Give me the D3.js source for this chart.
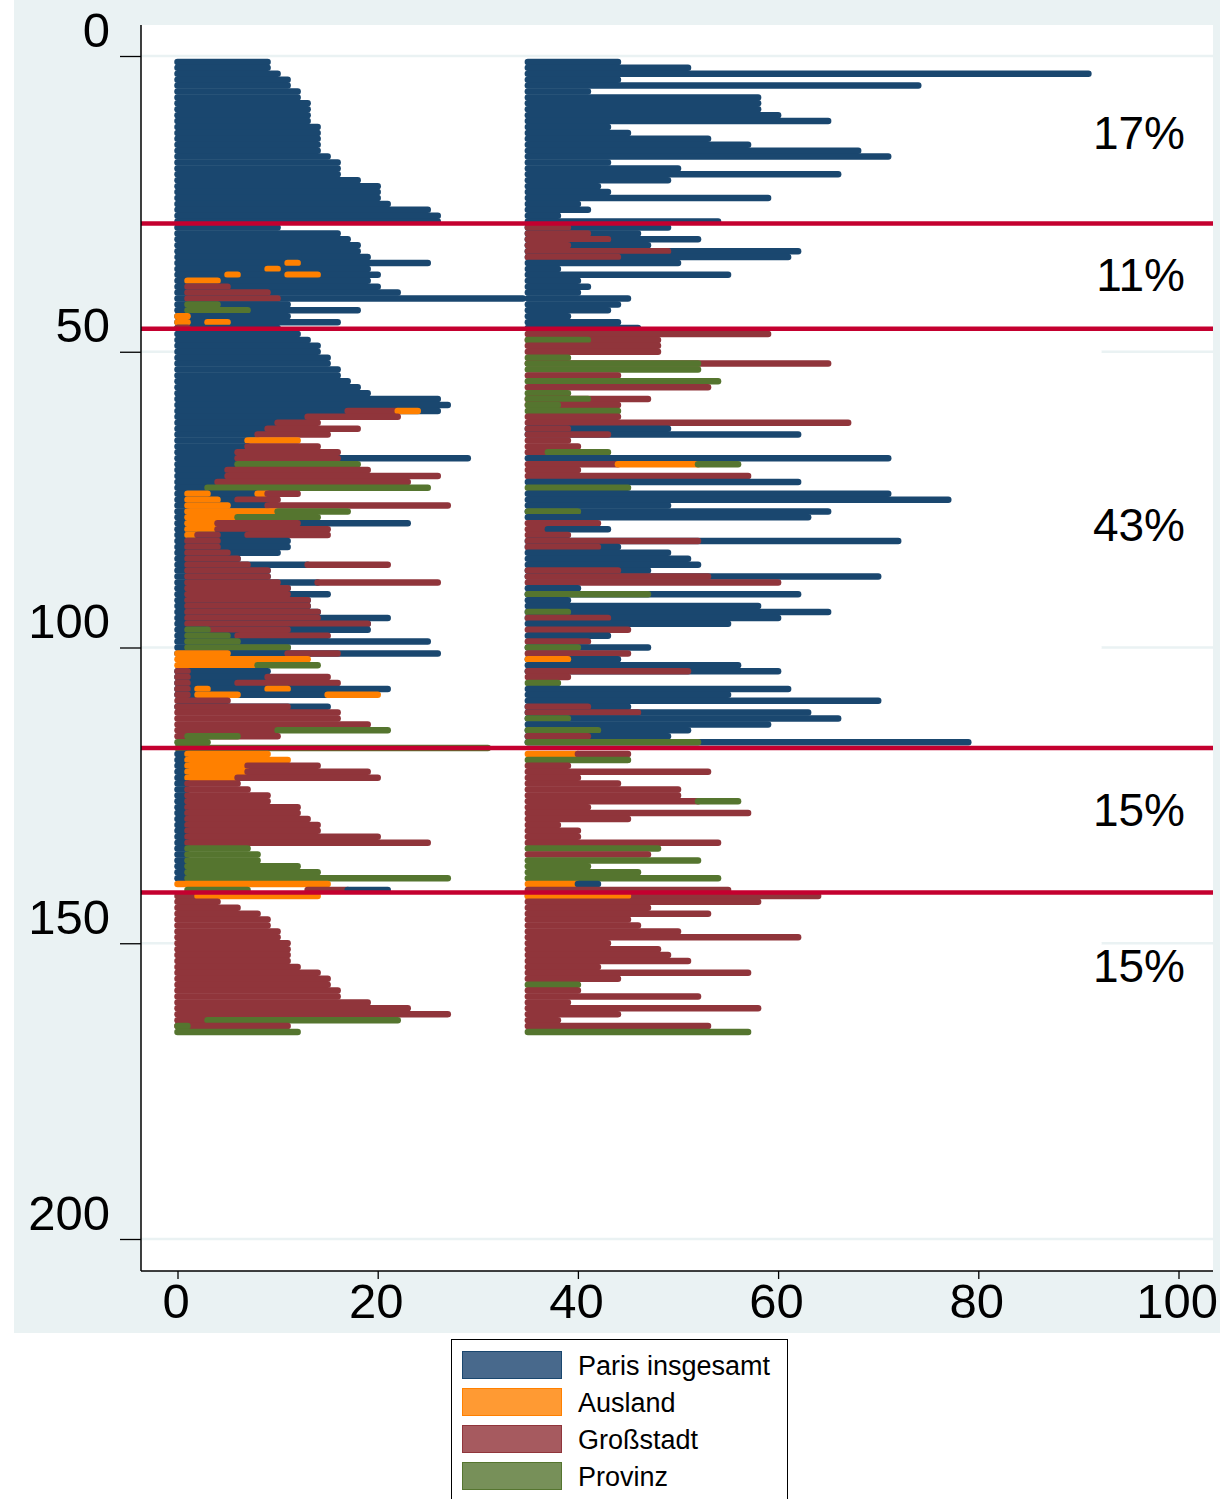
<!DOCTYPE html>
<html><head><meta charset="utf-8">
<script src="https://cdn.jsdelivr.net/npm/d3@7"></script>
<style>body{margin:0;background:#fff}svg{display:block}text{font-family:"Liberation Sans",Arial,sans-serif}</style>
</head><body><svg id="c" width="1232" height="1499"></svg>
<script>
// ---------- data ----------
const categories = ["B", "O", "R", "G"];
const categoryNames = ["Paris insgesamt", "Ausland", "Großstadt", "Provinz"];
const categoryColors = ["#1a476f", "#ff8000", "#90353b", "#55752f"];
const legendFills = ["#48698c", "#ff9a33", "#a65a5f", "#779059"];
const xTicks = [0, 20, 40, 60, 80, 100];
const yTicks = [0, 50, 100, 150, 200];
const groupBreaks = [28.3, 46.1, 117, 141.4];
const groupLabels = ["17%", "11%", "43%", "15%", "15%"];
const groupLabelY = [13, 37, 79.3, 127.5, 153.8];
const coverSpan = [0, 92];

// one string per person (row 1..165): spells "Cstart-end", drawn in order
const leftSpells = [
"B0-9","B0-9","B0-10","B0-11","B0-11","B0-12","B0-12","B0-13","B0-13","B0-13",
"B0-13","B0-14","B0-14","B0-14","B0-14","B0-14","B0-15","B0-16","B0-16","B0-16",
"B0-18","B0-20","B0-20","B0-20","B0-21","B0-25","B0-26","B0-26","B0-10","B0-16",
"B0-17","B0-18","B0-18","B0-19","B0-25 O11-12","B0-19 O9-10","B0-20 O5-6 O11-14","B0-19 O1-4","B0-20 R1-5","B0-22 R1-9",
"B0-34.5 R1-10","B0-11 G1-4","B0-18 G1-7","B0-11 O0-1","B0-16 O0-1 O3-5","B0-10 R0-1","B0-12","B0-13","B0-14","B0-14",
"B0-15","B0-15","B0-16","B0-16","B0-17","B0-18","B0-19","B0-26","B0-27","B0-26 R17-22 O22-24",
"B0-13 R13-22","B0-10 R10-14","B0-9 R9-18","B0-8 R8-15","B0-7 O7-12","B0-7 R7-14","B0-6 R6-16","B0-29 R6-16","B0-6 G6-18","B0-5 R5-19",
"B0-5 R5-26","B0-4 R4-23","B0-3 G3-25","B0-9 O1-3 O8-9 R9-12","B0-6 O1-4 R6-10","B0-9 O1-5 R9-27","B0-1 O1-10 G10-17","B0-6 O1-6 G6-14","B0-23 O1-4 R4-12","B0-4 O1-4 R4-15",
"B0-7 O1-2 R2-4 R7-15","B0-11 R1-4","B0-11 R1-4","B0-10 R1-5","B0-6 R1-6","B0-13 R1-7 R13-21","B0-9 R1-9","B0-9 R1-9","B0-14 R1-10 R14-26","B0-11 R1-11",
"B0-15 R1-11","B0-13 R1-13","B0-13 R1-13","B0-14 R1-14","B0-21 R1-14","B0-19 R1-19","B0-19 R3-11 G1-3","B0-6 G1-5 R6-15","B0-25 G1-6","B0-11 G1-11",
"B0-26 O0-5 R11-16","O0-13","O0-8 G8-14","B0-9 R0-1","B0-9 R0-1 R9-15","B0-6 R0-1 R6-16","B0-21 R0-1 O2-3 O9-11","B0-15 R0-1 O2-6 O15-20","R0-5","B0-15 R0-11",
"R0-16","R0-16","R0-19","R0-10 G10-21","R0-10 G1-6","G0-3","G0-31","B0-1 O1-9","B0-1 O1-11","B0-1 O1-7 R7-14",
"B0-1 O1-7 R7-19","B0-1 O1-6 R6-20","B0-1 R1-6","B0-1 R1-7","B0-1 R1-9","B0-1 R1-9","B0-1 R1-12","B0-1 R1-12","B0-1 R1-13","B0-1 R1-14",
"B0-1 R1-14","B0-1 R1-20","B0-1 R1-25","B0-1 G1-7","B0-1 G1-8","B0-1 G1-8","B0-1 G1-12","B0-1 G1-14","B0-1 G1-27","O0-15",
"G1-7 R13-17 B17-21","R0-2 O2-14","R0-4","R0-6","R0-8","R0-9","R0-9","R0-10","R0-10","R0-11",
"R0-11","R0-11","R0-11","R0-12","R0-14","R0-15","R0-15","R0-16","R0-16","R0-19",
"R0-23","R0-27","R0-11 G3-22","R0-11 G0-1","G0-12"
];
const rightSpells = [
"B35-44","B35-51","B35-91","B35-44","B35-74","B35-41","B35-58","B35-58","B35-58","B35-60",
"B35-65","B35-43","B35-45","B35-53","B35-57","B35-68","B35-71","B35-43","B35-50","B35-66",
"B35-49","B35-42","B35-43","B35-59","B35-40","B35-41","B35-38","B35-54","B35-49 R35-39","B35-46 R35-41",
"B35-52 R35-43","B35-47 R35-39","B35-62 R35-49","B35-61 R35-44","B35-50","B35-38","B35-55","B35-40","B35-41","B35-40",
"B35-45","B35-44","B35-43","B35-39","B35-44","B35-46","R35-59","R35-48 G35-41","R35-48","R35-48",
"G35-39","R35-65 G35-52","G35-52","R35-44","G35-54","R35-53","G35-39","R35-47 G35-41","R35-44 G35-38","G35-44",
"R35-44","R35-67","B35-49 R35-39","B35-62 R35-43","R35-39","R35-40","R35-37 G37-43","B35-71","R35-44 O44-52 G52-56","R35-40",
"R35-57","B35-62","G35-45","B35-71","B35-77","B35-49","B35-65 G35-40","B35-63","R35-42","R35-37 B37-43",
"R35-39","B35-72 R35-52","B35-44 R35-42","B35-49","B35-51","B35-52","B35-47 R35-44","B35-70 R35-53","R35-60","B35-40",
"B35-62 G35-47","B35-39","B35-58","B35-65 G35-39","B35-60 R35-43","B35-55","R35-45","B35-43","R35-41","B35-47 G35-40",
"R35-45","B35-44 O35-39","B35-56","B35-60 R35-51","R35-39","G35-38","B35-61","B35-55","B35-70","B35-45 R35-41",
"B35-63 R35-46","B35-66 G35-39","B35-59","B35-51 G35-42","B35-49 R35-41","B35-79 G35-52","","O35-40 R40-45","G35-45","R35-39",
"R35-53","R35-40","R35-44","R35-50","R35-50","R35-52 G52-56","R35-41","R35-57","R35-45","R35-38",
"R35-40","R35-40","R35-54","G35-48","R35-47","G35-52","G35-41","G35-46","G35-54","O35-40 B40-42",
"R35-55","R35-64 O35-45","R35-58","R35-47","R35-53","R35-45","R35-46","R35-50","R35-62","R35-43",
"R35-48","R35-49","R35-51","R35-42","R35-57","R35-44","G35-40","R35-40","R35-52","R35-39",
"R35-58","R35-44","R35-38","R35-53","G35-57"
];

// ---------- drawing ----------
const svg = d3.select("#c");
const colorOf = d3.scaleOrdinal(categories, categoryColors);
const x = d3.scaleLinear([0, 100], [177.5, 1178.5]);
const y = d3.scaleLinear([0, 200], [56, 1239]);
const plot = {l: 141, t: 25, r: 1213, b: 1271};
const lw = 6.5;

svg.append("rect").attr("x", 14).attr("y", 0).attr("width", 1206).attr("height", 1333).attr("fill", "#eaf2f3");
svg.append("rect").attr("x", plot.l).attr("y", plot.t).attr("width", plot.r - plot.l).attr("height", plot.b - plot.t).attr("fill", "#fff");

svg.append("g").selectAll("line").data(yTicks).join("line")
  .attr("x1", plot.l).attr("x2", plot.r).attr("y1", d => y(d)).attr("y2", d => y(d))
  .attr("stroke", "#eaf2f3").attr("stroke-width", 2.5);

function parse(str, row) {
  if (!str) return [];
  return str.trim().split(/\s+/).map(t => {
    const [a, b] = t.slice(1).split("-").map(Number);
    return {row, cat: t[0], a, b};
  });
}
const segs = [];
leftSpells.forEach((s, i) => segs.push(...parse(s, i + 1)));
rightSpells.forEach((s, i) => segs.push(...parse(s, i + 1)));
segs.sort((p, q) => p.row - q.row);

const rows = d3.range(1, leftSpells.length + 1);
svg.append("g").selectAll("line").data(rows).join("line")
  .attr("x1", x(coverSpan[0])).attr("x2", x(coverSpan[1]))
  .attr("y1", d => y(d)).attr("y2", d => y(d))
  .attr("stroke", "#fff").attr("stroke-width", lw).attr("stroke-linecap", "round");

svg.append("g").selectAll("line").data(segs).join("line")
  .attr("x1", d => x(d.a)).attr("x2", d => x(d.b))
  .attr("y1", d => y(d.row)).attr("y2", d => y(d.row))
  .attr("stroke", d => colorOf(d.cat)).attr("stroke-width", lw).attr("stroke-linecap", "round");

svg.append("g").selectAll("line").data(groupBreaks).join("line")
  .attr("x1", plot.l).attr("x2", plot.r).attr("y1", d => y(d)).attr("y2", d => y(d))
  .attr("stroke", "#c4002f").attr("stroke-width", 4.5);

svg.append("g").selectAll("text").data(groupLabels).join("text")
  .attr("x", 1185).attr("y", (d, i) => y(groupLabelY[i])).attr("dy", "0.35em")
  .attr("text-anchor", "end").attr("font-size", 46).attr("fill", "#000").text(d => d);

// axes
const ya = svg.append("g").attr("transform", `translate(${plot.l},0)`)
  .call(d3.axisLeft(y).tickValues(yTicks).tickSize(21).tickPadding(10).tickFormat(d3.format("d")));
ya.select(".domain").remove();
ya.selectAll(".tick line").attr("stroke", "#000").attr("stroke-width", 1.3);
ya.selectAll("text").attr("font-size", 49).attr("dy", -10).attr("fill", "#000")
  .style("font-family", '"Liberation Sans",Arial,sans-serif');

const xa = svg.append("g").attr("transform", `translate(0,${plot.b})`)
  .call(d3.axisBottom(x).tickValues(xTicks).tickSize(8).tickPadding(4).tickFormat(d3.format("d")));
xa.select(".domain").remove();
xa.selectAll(".tick line").attr("stroke", "#000").attr("stroke-width", 1.3);
xa.selectAll("text").attr("font-size", 49).attr("fill", "#000").attr("dx", -2)
  .style("font-family", '"Liberation Sans",Arial,sans-serif');

svg.append("line").attr("x1", plot.l).attr("x2", plot.l).attr("y1", plot.t).attr("y2", plot.b)
  .attr("stroke", "#000").attr("stroke-width", 1.5);
svg.append("line").attr("x1", plot.l).attr("x2", plot.r).attr("y1", plot.b).attr("y2", plot.b)
  .attr("stroke", "#000").attr("stroke-width", 1.5);

// legend
const lg = svg.append("g");
lg.append("rect").attr("x", 451.5).attr("y", 1339.5).attr("width", 336).attr("height", 170)
  .attr("fill", "#fff").attr("stroke", "#000").attr("stroke-width", 1);
const items = lg.selectAll("g.item").data(categories).join("g").attr("class", "item")
  .attr("transform", (d, i) => `translate(0,${1351 + i * 37})`);
items.append("rect").attr("x", 462.5).attr("y", 0.5).attr("width", 99).attr("height", 27)
  .attr("fill", (d, i) => legendFills[i]).attr("stroke", (d, i) => categoryColors[i]).attr("stroke-width", 1);
items.append("text").attr("x", 578).attr("y", 24).attr("font-size", 27).attr("fill", "#000")
  .text((d, i) => categoryNames[i]);
</script></body></html>
